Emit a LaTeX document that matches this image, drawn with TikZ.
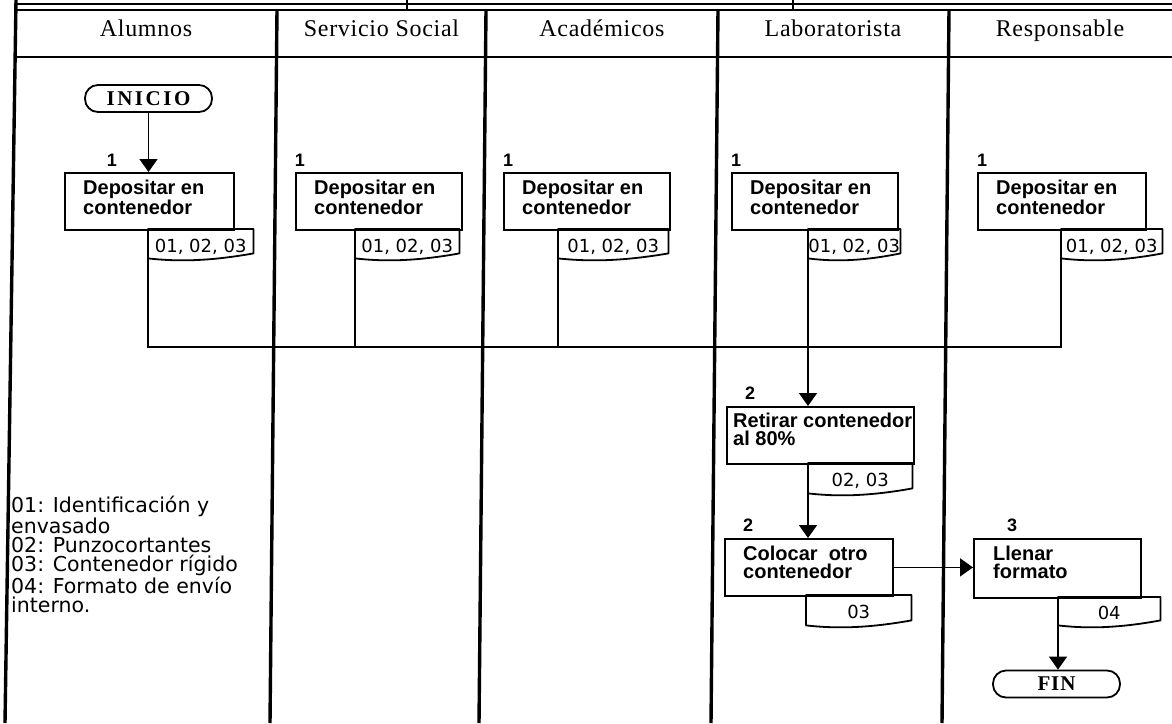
\documentclass[tikz,border=0pt]{standalone}
\usepackage{fontspec}
\setmainfont{Liberation Serif}
\newfontfamily\lanefont[LetterSpace=3]{Liberation Serif}
\newfontfamily\termfont[LetterSpace=12]{Liberation Serif}
\newfontfamily\finfont[LetterSpace=4]{Liberation Serif}
\newfontfamily\stepfont{Liberation Sans}
\newfontfamily\notefont{DejaVu Sans}
\usetikzlibrary{arrows.meta,calc}

\tikzset{
  lane/.style={line width=3.4pt},
  rowline/.style={line width=2.6pt},
  thinrule/.style={line width=1.2pt},
  stepbox/.style={draw, line width=1.8pt, rectangle, inner sep=0pt, anchor=north west},
  steptext/.style={anchor=north west, inner sep=0pt, align=left,
    font=\stepfont\bfseries\fontsize{20}{18}\selectfont},
  tag/.style={inner sep=0pt, anchor=north west,
    font=\notefont\fontsize{18}{18}\selectfont, text height=17.5pt, text depth=0pt},
  docline/.style={line width=1.8pt, line join=round},
  flow/.style={line width=1.6pt},
  arrowflow/.style={flow, -{Triangle[length=13pt,width=18pt]}},
  terminal/.style={draw, line width=1.8pt, rounded corners=13pt,
    minimum height=27pt, minimum width=127pt, inner sep=0pt},
  stepnum/.style={anchor=base, inner sep=0pt,
    font=\stepfont\bfseries\fontsize{18}{18}\selectfont},
  lanehead/.style={anchor=base, inner sep=0pt, font=\lanefont\fontsize{24}{24}\selectfont},
  notetext/.style={anchor=north west, inner sep=0pt, align=left,
    font=\notefont\fontsize{20.5}{19}\selectfont},
}

% document symbol: name, left, top, right, bottom, text
\newcommand\docbox[6]{%
  \node[tag, minimum width={#4-#2}, minimum height={#5-#3}] (#1) at (#2,#3) {#6};
  \draw[docline] (#1.north west) -- (#1.south west)
    .. controls ($(#1.south west)+({0.3*(#4-#2)},3.5)$)
       and ($(#1.south east)+({-0.4*(#4-#2)},2.5)$)
    .. ($(#1.south east)+(0,-5)$) -- (#1.north east) -- cycle;
}

\begin{document}
\begin{tikzpicture}[x=1pt,y=-1pt]
\useasboundingbox (0,0) rectangle (1172,723);

% frame and swimlanes
\draw[thinrule] (15,4) -- (1172,4);
\draw[thinrule] (407,0) -- (407,10);
\draw[thinrule] (793,0) -- (793,10);
\draw[rowline] (15,10) -- (1172,10);
\draw[rowline] (15,57) -- (1172,57);
\draw[lane] (16,0) -- (5,723);
\draw[lane] (277,10) -- (270,723);
\draw[lane] (486,10) -- (479,723);
\draw[lane] (718,10) -- (711,723);
\draw[lane] (949,10) -- (942,723);

% lane titles
\node[lanehead] (h1) at (146,36) {Alumnos};
\node[lanehead] (h2) at (381.5,36) {Servicio Social};
\node[lanehead] (h3) at (602,36) {Académicos};
\node[lanehead] (h4) at (833,36) {Laboratorista};
\node[lanehead] (h5) at (1060,36) {Responsable};

% start
\node[terminal] (ini) at (148.5,98.5) {\termfont\bfseries\fontsize{21}{21}\selectfont INICIO};

% step 1 in every lane
\node[stepbox, minimum width=169pt, minimum height=57pt] (a1) at (64,172) {};
\node[stepbox, minimum width=166pt, minimum height=57pt] (a2) at (295,172) {};
\node[stepbox, minimum width=166pt, minimum height=57pt] (a3) at (503,172) {};
\node[stepbox, minimum width=166pt, minimum height=57pt] (a4) at (731,172) {};
\node[stepbox, minimum width=168pt, minimum height=57pt] (a5) at (977,172) {};
\foreach \b in {a1,a2,a3,a4,a5}{
  \node[steptext] (\b t) at ($(\b.north west)+(19,7.7)$) {Depositar en\\contenedor};
}
\node[stepnum] (n1) at (112,166) {1};
\node[stepnum] (n2) at (300,166) {1};
\node[stepnum] (n3) at (508,166) {1};
\node[stepnum] (n4) at (736,166) {1};
\node[stepnum] (n5) at (982,166) {1};

\docbox{d1}{148}{229}{253}{258}{01, 02, 03}
\docbox{d2}{355}{229}{459}{258}{01, 02, 03}
\docbox{d3}{558}{229}{668}{258}{01, 02, 03}
\docbox{d4}{808}{229}{900}{258}{01, 02, 03}
\docbox{d5}{1061}{229}{1162}{258}{01, 02, 03}

% steps 2 and 3
\node[stepbox, minimum width=187pt, minimum height=57pt] (b2) at (726,406) {};
\node[steptext] (b2t) at ($(b2.north west)+(7,7)$) {Retirar contenedor\\al 80\%};
\node[stepnum] (m2) at (750,399) {2};
\docbox{e2}{808}{463}{912}{493}{02, 03}

\node[stepbox, minimum width=168pt, minimum height=57pt] (b3) at (724,538) {};
\node[steptext] (b3t) at ($(b3.north west)+(19,7.7)$) {Colocar\ \ otro\\contenedor};
\node[stepnum] (m3) at (748,531) {2};
\docbox{e3}{806}{595}{911}{625}{03}

\node[stepbox, minimum width=167pt, minimum height=59pt] (b4) at (973,538) {};
\node[steptext] (b4t) at ($(b4.north west)+(20,7.7)$) {Llenar\\formato};
\node[stepnum] (m4) at (1012,531) {3};
\docbox{e4}{1058}{597}{1160}{625}{04}

% end
\node[terminal] (fin) at (1056.5,684) {\finfont\bfseries\fontsize{21}{21}\selectfont FIN};

% legend
\node[notetext] (legend) at (11,496) {01: Identificación y\\envasado\\02: Punzocortantes\\03: Contenedor rígido\\04: Formato de envío\\interno.};

% connectors
\coordinate (bus) at (0,347);
\draw[arrowflow] (ini.south) -- (ini.south |- a1.north);
\draw[flow] (d1.south west) -- (d1.south west |- bus) -- (d5.south west |- bus) -- (d5.south west);
\draw[flow] (d2.south west) -- (d2.south west |- bus);
\draw[flow] (d3.south west) -- (d3.south west |- bus);
\draw[arrowflow] (d4.south west) -- (d4.south west |- b2.north);
\draw[arrowflow] (e2.south west) -- (e2.south west |- b3.north);
\draw[arrowflow] (b3.east) -- (b3.east -| b4.west);
\draw[arrowflow] (e4.south west) -- (e4.south west |- fin.north);
\end{tikzpicture}
\end{document}
